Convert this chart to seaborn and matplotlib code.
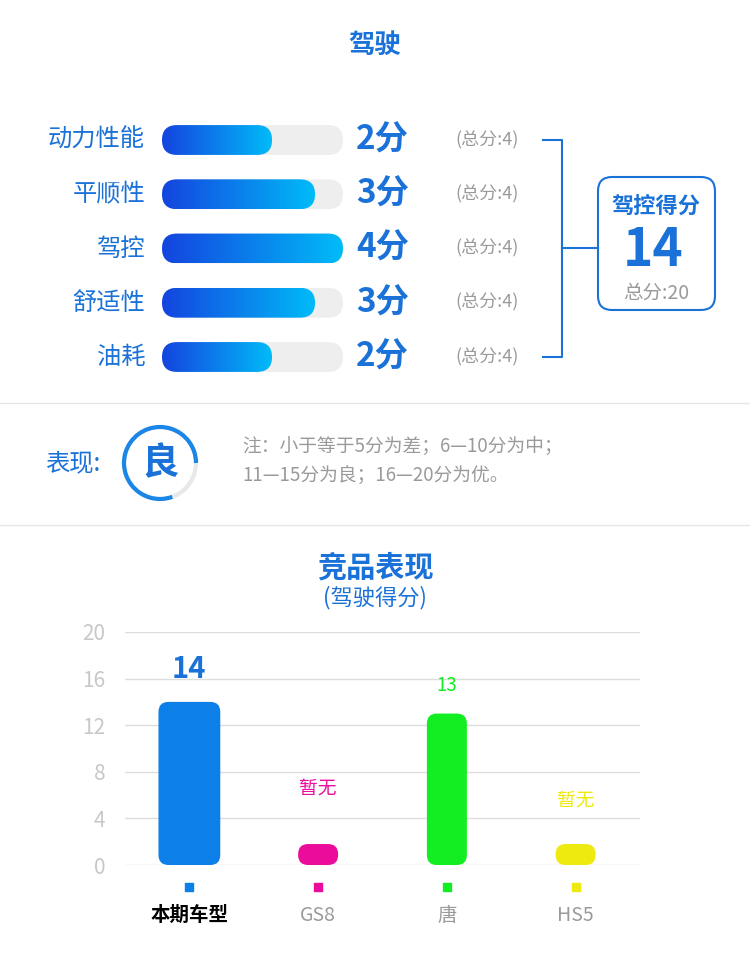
import numpy as np
import pandas as pd
import seaborn as sns
import matplotlib.pyplot as plt
from matplotlib.patches import FancyBboxPatch, Arc, Circle
from matplotlib.colors import LinearSegmentedColormap

plt.rcParams['font.family'] = ['Noto Sans CJK SC', 'DejaVu Sans']

# data
items = ['动力性能', '平顺性', '驾控', '舒适性', '油耗']
scores = [2, 3, 4, 3, 2]
item_max = 4
total_score = 14
total_max = 20
rating = '良'

models = ['本期车型', 'GS8', '唐', 'HS5']
model_scores = [14, None, 13, None]
model_colors = ['#0d7fe8', '#ec0c9b', '#12ee22', '#eeea10']
y_ticks = [0, 4, 8, 12, 16, 20]

BLUE = '#1a72d8'
GRAY = '#9a9a9a'

fig = plt.figure(figsize=(7.5, 9.69), dpi=100)
W, H = 750, 969

# overlay in pixel coordinates for decorations
ov = fig.add_axes([0, 0, 1, 1])
ov.set_xlim(0, W)
ov.set_ylim(H, 0)
ov.axis('off')

ov.text(375, 45, '驾驶', color=BLUE, fontsize=19, fontweight='bold', ha='center', va='center')


def px_axes(x0, y0, x1, y1):
    return fig.add_axes([x0 / W, 1 - y1 / H, (x1 - x0) / W, (y1 - y0) / H])


# ---- top bars ----
row_h = (357 - 140) / 4
ax1 = px_axes(162, 140 - row_h / 2, 343, 357 + row_h / 2)
df1 = pd.DataFrame({'item': items, 'score': scores})
sns.barplot(data=df1, y='item', x='score', ax=ax1, width=0.55, color='#eeeeee')
x_lo, x_hi = -0.56, 3.65
ax1.set_xlim(x_lo, x_hi)
ax1.axis('off')
cmap = LinearSegmentedColormap.from_list('g', ['#1444df', '#00bcf8'])
xpx = 181 / (x_hi - x_lo)
asp = (1 / row_h) / (1 / xpx)
rad = 15 / xpx
grad = np.linspace(0, 1, 256).reshape(1, -1)
for p in list(ax1.patches):
    y, w, h = p.get_y(), p.get_width(), p.get_height()
    p.remove()
    track = FancyBboxPatch((x_lo, y), x_hi - x_lo, h, boxstyle=f'round,pad=0,rounding_size={rad}',
                           mutation_aspect=asp, fc='#eeeeee', ec='none')
    ax1.add_patch(track)
    end = min(w, x_hi)
    fill = FancyBboxPatch((x_lo, y), end - x_lo, h, boxstyle=f'round,pad=0,rounding_size={rad}',
                          mutation_aspect=asp, fc='none', ec='none')
    ax1.add_patch(fill)
    im = ax1.imshow(grad, cmap=cmap, extent=(x_lo, end, y + h, y), aspect='auto', zorder=3)
    im.set_clip_path(fill)
ax1.set_xlim(x_lo, x_hi)
ax1.set_ylim(len(items) - 0.5, -0.5)

for i, (it, s) in enumerate(zip(items, scores)):
    yy = 140 + i * row_h
    ov.text(145, yy, it, ha='right', va='center', fontsize=17.5, color=BLUE)
    ov.text(356, yy, f'{s}分', ha='left', va='center', fontsize=24, fontweight='bold', color=BLUE)
    ov.text(455, yy, f'(总分:{item_max})', ha='left', va='center', fontsize=13, color=GRAY)

# bracket
ov.plot([543, 562, 562, 543], [140, 140, 357, 357], color=BLUE, lw=1.5)
ov.plot([562, 598], [248, 248], color=BLUE, lw=1.5)
ov.add_patch(FancyBboxPatch((598, 177), 117, 133, boxstyle='round,pad=0,rounding_size=14',
                            fc='white', ec=BLUE, lw=1.5))
ov.text(656, 206, '驾控得分', ha='center', va='center', fontsize=16, fontweight='bold', color=BLUE)
ov.text(653, 250, str(total_score), ha='center', va='center', fontsize=37, fontweight='bold', color=BLUE)
ov.text(656, 293, f'总分:{total_max}', ha='center', va='center', fontsize=14, color=GRAY)

# separators
for yy in (403, 525):
    ov.plot([0, W], [yy, yy], color='#e6e6e6', lw=1)

# rating
ov.text(45, 463, '表现:', ha='left', va='center', fontsize=17.5, color=BLUE)
ov.add_patch(Circle((160, 463), 36, fc='none', ec='#e8e8e8', lw=3))
ov.add_patch(Arc((160, 463), 72, 72, theta1=-290 + 360 - 360, theta2=0, ec='#1a86e8', lw=3))
ov.text(160, 463, rating, ha='center', va='center', fontsize=27, fontweight='bold', color=BLUE)
ov.text(242, 446, '注：小于等于5分为差；6—10分为中；', ha='left', va='center', fontsize=13.5, color=GRAY)
ov.text(242, 476, '11—15分为良；16—20分为优。', ha='left', va='center', fontsize=13.5, color=GRAY)

# ---- bottom chart ----
ov.text(375, 567, '竞品表现', ha='center', va='center', fontsize=21, fontweight='bold', color=BLUE)
ov.text(375, 598, '(驾驶得分)', ha='center', va='center', fontsize=16, color=BLUE)

ax2 = px_axes(125, 632, 640, 865)
placeholder = 1.8
vals = [v if v is not None else placeholder for v in model_scores]
df2 = pd.DataFrame({'model': models, 'score': vals})
sns.barplot(data=df2, x='model', y='score', hue='model', palette=model_colors,
            legend=False, ax=ax2, width=0.48)
ax2.set_ylim(0, 20)
ax2.set_xlim(-0.5, len(models) - 0.5)
upx = 515 / len(models)
vpx = 233 / 20
asp2 = (1 / vpx) / (1 / upx)
for i, (p, c) in enumerate(zip(list(ax2.patches), model_colors)):
    x, y, w, h = p.get_x(), p.get_y(), p.get_width(), p.get_height()
    p.remove()
    if i > 0:
        cx = x + w / 2
        w = 40 / upx
        x = cx - w / 2
    r = min(10, h * vpx / 2 - 0.5) / upx
    ax2.add_patch(FancyBboxPatch((x, y), w, h, boxstyle=f'round,pad=0,rounding_size={r}',
                                 mutation_aspect=asp2, fc=c, ec='none', zorder=3))
ax2.set_yticks(y_ticks)
ax2.grid(axis='y', color='#dddddd', lw=1)
ax2.set_axisbelow(True)
for s in ax2.spines.values():
    s.set_visible(False)
ax2.tick_params(axis='y', length=0, labelsize=15, labelcolor='#c8c8c8', pad=14)
ax2.set_xticks([])
ax2.set_xlabel('')
ax2.set_ylabel('')

for i, (m, v, c) in enumerate(zip(models, model_scores, model_colors)):
    if v is None:
        ax2.text(i, placeholder + 4.8 - (i == 3) * 1.0, '暂无', ha='center', va='center', fontsize=13.5, color=c)
    elif i == 0:
        ax2.text(i, v + 2.8, str(v), ha='center', va='center', fontsize=21, fontweight='bold', color=BLUE)
    else:
        ax2.text(i, v + 2.4, str(v), ha='center', va='center', fontsize=13.5, color=c)
    ax2.scatter([i], [-1.9], marker='s', s=30, color=c, clip_on=False)
    ax2.text(i, -4.3, m, ha='center', va='center', fontsize=14,
             fontweight='bold' if i == 0 else 'normal', color='black' if i == 0 else GRAY)

fig.savefig('out.png', dpi=100)
